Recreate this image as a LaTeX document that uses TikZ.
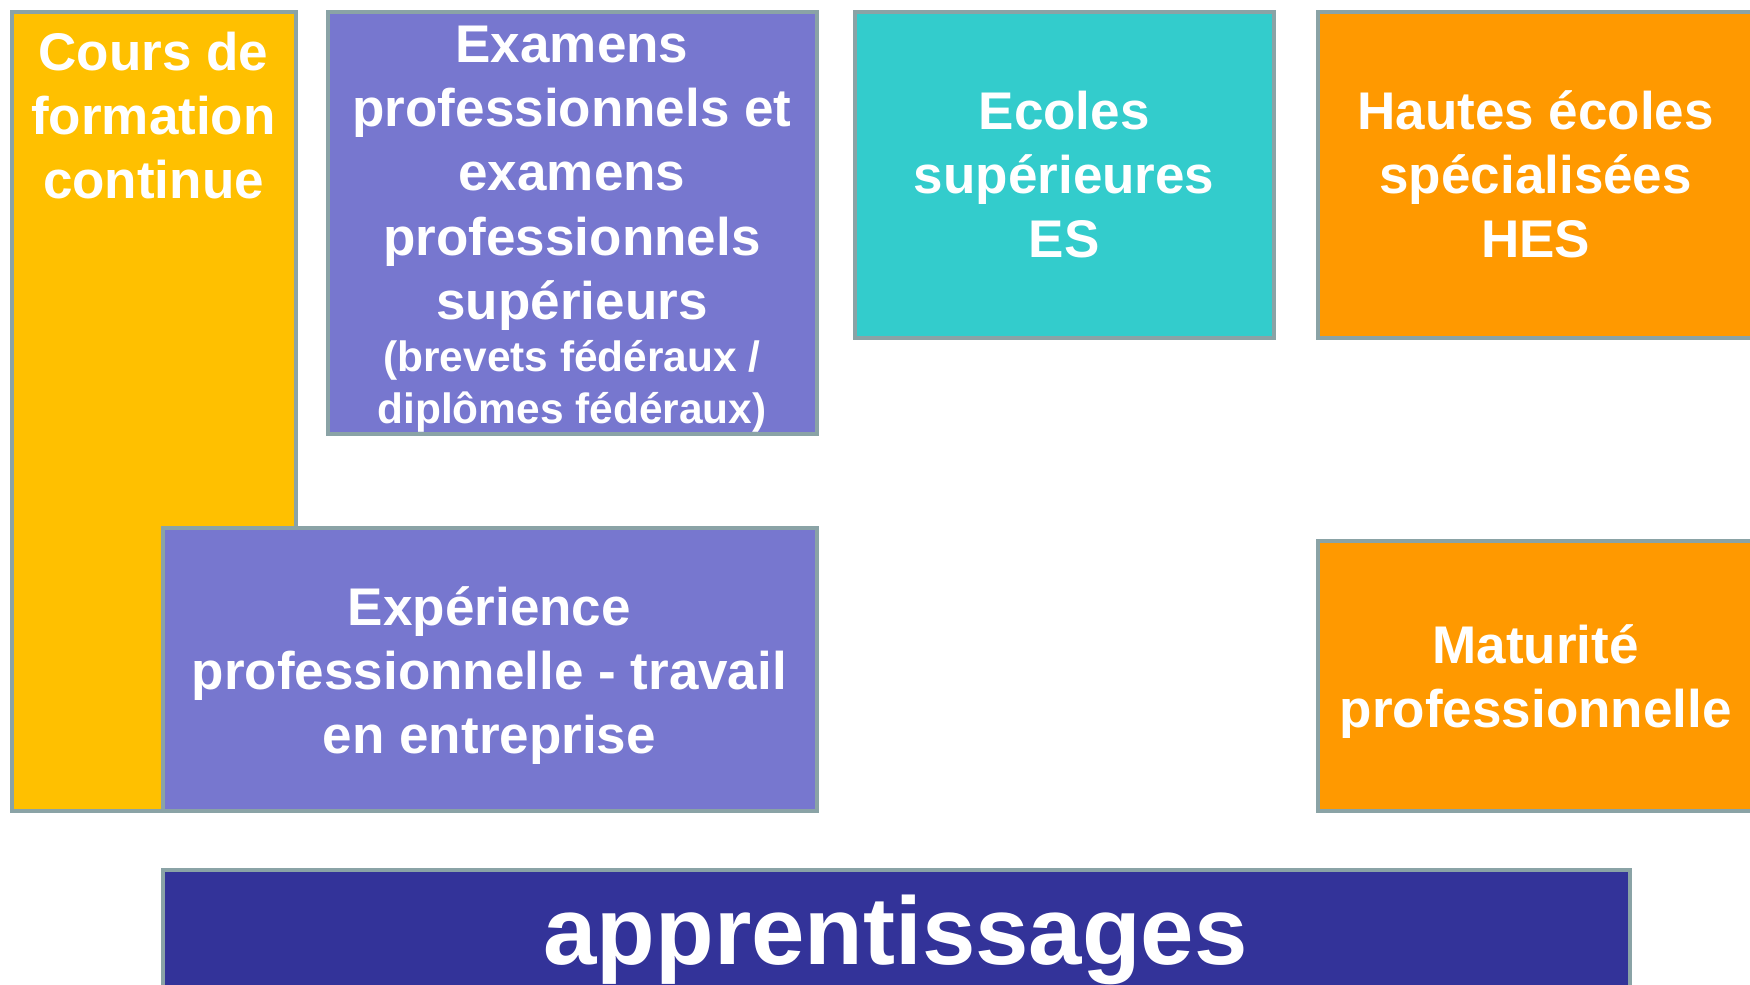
\documentclass[tikz,border=0pt]{standalone}
\usepackage{fontspec}
\setmainfont{Liberation Sans}
\definecolor{jaune}{HTML}{FFC000}
\definecolor{lilas}{HTML}{7777CF}
\definecolor{turquoise}{HTML}{33CCCC}
\definecolor{orangehes}{HTML}{FF9900}
\definecolor{indigo}{HTML}{333399}
\definecolor{bord}{HTML}{8AA3A6}
\begin{document}
\begin{tikzpicture}[x=0.5pt,y=-0.5pt,
    boite/.style={draw=bord,line width=1.8pt,inner sep=0pt,anchor=north west},
    texte/.style={text=white,font=\bfseries\fontsize{23.75}{28.75}\selectfont,align=center,anchor=base,inner sep=0pt}]
    \useasboundingbox (0,0) rectangle (1568,882);
    \clip (0,0) rectangle (1568,882);
    \node [boite,fill=jaune,minimum width=127pt,minimum height=358pt] (cours) at (9,9) {};
    \node [boite,fill=lilas,minimum width=219pt,minimum height=189pt] (examens) at (292,9) {};
    \node [boite,fill=turquoise,minimum width=188pt,minimum height=146pt] (ecoles) at (764,9) {};
    \node [boite,fill=orangehes,minimum width=197pt,minimum height=146pt] (hes) at (1179,9) {};
    \node [boite,fill=lilas,minimum width=293pt,minimum height=127pt] (experience) at (144,471) {};
    \node [boite,fill=orangehes,minimum width=197pt,minimum height=121pt] (maturite) at (1179,483) {};
    \node [boite,fill=indigo,minimum width=657.5pt,minimum height=70pt] (apprentissages) at (144,778) {};
    \node [texte] (tcours) at (137.5,178) {Cours de\\formation\\continue};
    \node [texte] (texamens) at (512.5,379.5) {Examens\\professionnels et\\examens\\professionnels\\supérieurs\\[-5.25pt]
        {\fontsize{19}{23}\selectfont (brevets fédéraux /}\\[-5.5pt]{\fontsize{19}{23}\selectfont diplômes fédéraux)}};
    \node [texte] (tecoles) at (953.5,231) {Ecoles\\supérieures\\ES};
    \node [texte] (thes) at (1376,231) {Hautes écoles\\spécialisées\\HES};
    \node [texte] (texperience) at (438.5,675) {Expérience\\professionnelle - travail\\en entreprise};
    \node [texte] (tmaturite) at (1376,652) {Maturité\\professionnelle};
    \node [texte,font=\bfseries\fontsize{43}{52}\selectfont] (tapprentissages) at (802.5,864) {apprentissages};
\end{tikzpicture}
\end{document}
